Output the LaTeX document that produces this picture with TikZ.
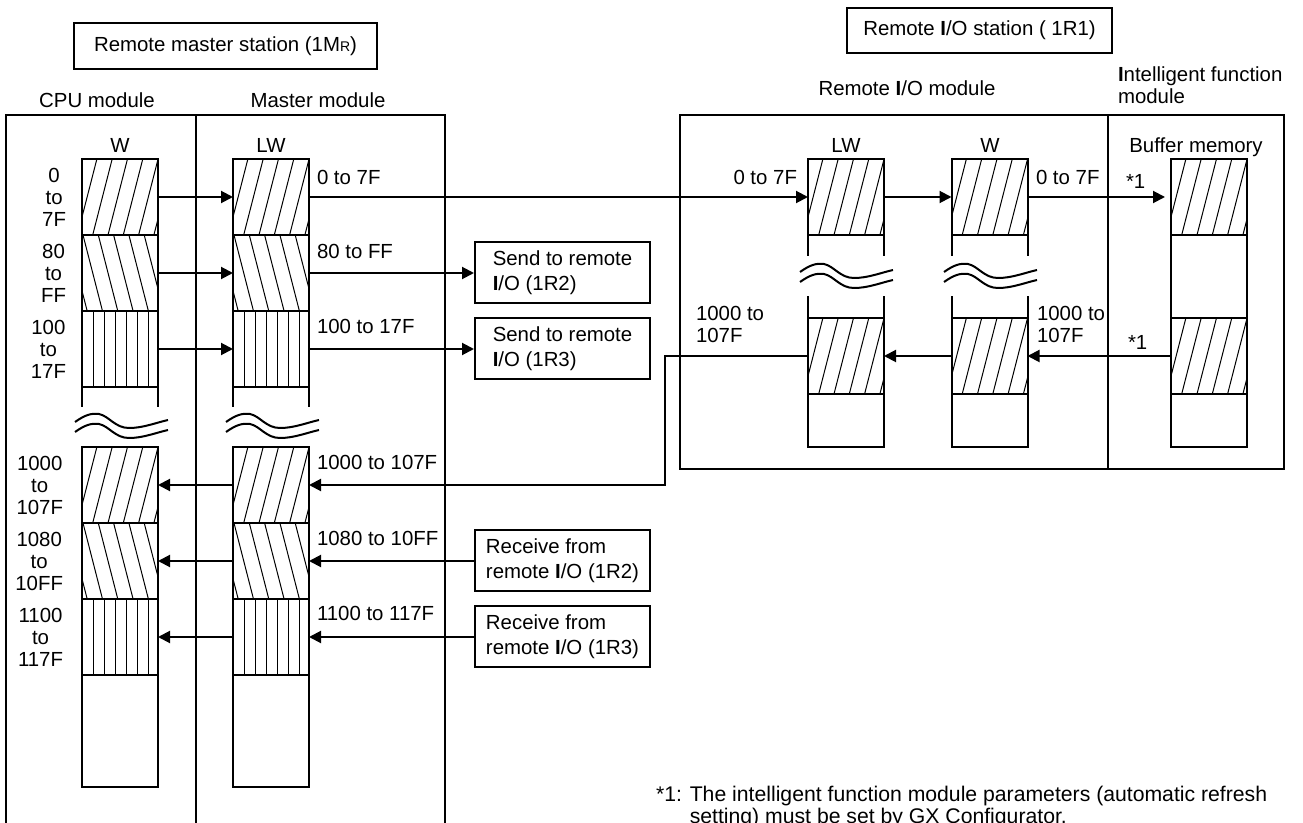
\documentclass[tikz,border=0pt]{standalone}
\usepackage{fontspec}
\setmainfont{Liberation Sans}
\usepackage{tikz}
\usetikzlibrary{arrows.meta, positioning, calc}

\newcommand{\rio}{\textbf{I}/O}
\newcommand{\wavebreak}[2]{%
  \foreach \dy in {0,10}{
    \draw (#1,#2+9+\dy) .. controls (#1+10,#2+2+\dy) and (#1+16,#2+\dy) .. (#1+24,#2+1+\dy)
      .. controls (#1+34,#2+3+\dy) and (#1+40,#2+15+\dy) .. (#1+54,#2+15+\dy)
      .. controls (#1+68,#2+15+\dy) and (#1+80,#2+10+\dy) .. (#1+93,#2+7+\dy);
  }}

\begin{document}
\begin{tikzpicture}[x=0.5pt, y=-0.5pt, line width=1pt, >={Triangle[length=6pt,width=6pt]},
  font=\fontsize{10.2pt}{11pt}\selectfont,
  seg/.style={draw, minimum width=38pt, minimum height=38pt, inner sep=0pt, outer sep=0pt},
  fwd/.style={seg, path picture={\foreach \k in {-1,...,5}
      \draw[line width=0.5pt] ([xshift=5.35pt+\k*7.65pt]path picture bounding box.south west) -- ++(10pt,39pt);}},
  bwd/.style={seg, path picture={\foreach \k in {-1,...,5}
      \draw[line width=0.5pt] ([xshift=0.5pt+\k*7.65pt]path picture bounding box.north west) -- ++(10pt,-39pt);}},
  hvert/.style={seg, path picture={\foreach \k in {0,...,5}
      \draw[line width=0.5pt] ([xshift=5.65pt+\k*5.55pt]path picture bounding box.south west) -- ++(0pt,39pt);}},
  iobox/.style={draw, align=left, minimum width=87.5pt, minimum height=30.5pt, inner sep=0pt,
      font=\fontsize{10.2pt}{12.5pt}\selectfont},
  addr/.style={align=center, anchor=east, inner sep=0pt},
  lbl/.style={anchor=west, align=left, inner sep=0pt},
]
\useasboundingbox (0,0) rectangle (1303,823);
\clip (0,0) rectangle (1303,823);

% station titles
\node[draw, minimum width=151.5pt, minimum height=23pt] (mst) at (225.5,46)
  {Remote master station (1M{\fontsize{7pt}{7pt}\selectfont R})};
\node[draw, minimum width=132.5pt, minimum height=22.5pt] (rst) at (979.5,30.5)
  {Remote \rio\ station ( 1R1)};

% module frames
\node (cpu) at (97,100) {CPU module};
\node (mm) at (318,100) {Master module};
\node (rmod) at (907,88) {Remote \rio\ module};
\node[lbl] (ifm) at (1117,85) {\textbf{I}ntelligent function\\module};
\draw (6,830) -- (6,115) -- (445,115) -- (445,830);
\draw (196,115) -- (196,830);
\draw (680,115) rectangle (1284,469);
\draw (1108,115) -- (1108,469);

% master station devices
\node (wt) at (120,145) {W};
\node (lwt) at (271,145) {LW};
\foreach \cx/\nm in {120/w, 271/lw} {
  \node[fwd] (\nm1) at (\cx,197) {};
  \node[bwd] (\nm2) at (\cx,273) {};
  \node[hvert] (\nm3) at (\cx,349) {};
  \node[fwd] (\nm4) at (\cx,485) {};
  \node[bwd] (\nm5) at (\cx,561) {};
  \node[hvert] (\nm6) at (\cx,637) {};
  \draw (\nm3.south west) -- ++(0,20) (\nm3.south east) -- ++(0,20);
  \draw (\nm6.south west) rectangle ++(76,112);
}
\wavebreak{75}{413}
\wavebreak{226}{413}

\node[addr] (a1) at (67,197) {0\\to\\7F};
\node[addr] (a2) at (67,273) {80\\to\\FF};
\node[addr] (a3) at (67,349) {100\\to\\17F};
\node[addr] (a4) at (64,485) {1000\\to\\107F};
\node[addr] (a5) at (64,561) {1080\\to\\10FF};
\node[addr] (a6) at (64,637) {1100\\to\\117F};

\node[lbl] (b1) at (316,177) {0 to 7F};
\node[lbl] (b2) at (316,251) {80 to FF};
\node[lbl] (b3) at (316,326) {100 to 17F};
\node[lbl] (b4) at (316,462) {1000 to 107F};
\node[lbl] (b5) at (316,538) {1080 to 10FF};
\node[lbl] (b6) at (316,613) {1100 to 117F};

% other stations
\node[iobox] (snd2) at (562.5,273) {Send to remote\\\rio\ (1R2)};
\node[iobox] (snd3) at (562.5,349) {Send to remote\\\rio\ (1R3)};
\node[iobox] (rcv2) at (562.5,561) {Receive from\\remote \rio\ (1R2)};
\node[iobox] (rcv3) at (562.5,637) {Receive from\\remote \rio\ (1R3)};

% remote I/O station devices
\node (rlwt) at (846,145) {LW};
\node (rwt) at (990,145) {W};
\node (buft) at (1196,147) {Buffer memory};
\foreach \cx/\nm in {846/rlw, 989.5/rw} {
  \node[fwd] (\nm1) at (\cx,197) {};
  \node[fwd] (\nm2) at (\cx,356) {};
  \draw (\nm1.south west) -- ++(0,21) (\nm1.south east) -- ++(0,21);
  \draw (\nm2.north west) -- ++(0,-22) (\nm2.north east) -- ++(0,-22);
  \draw (\nm2.south west) rectangle ++(76,53);
}
\node[fwd] (buf1) at (1209,197) {};
\node[fwd] (buf2) at (1209,356) {};
\draw (buf1.south west) -- (buf2.north west) (buf1.south east) -- (buf2.north east);
\draw (buf2.south west) rectangle ++(76,53);
\wavebreak{800}{263}
\wavebreak{944}{263}

\node[anchor=east, inner sep=0pt] (c1) at (798,177) {0 to 7F};
\node[lbl] (c2) at (1035,177) {0 to 7F};
\node[lbl] (c3) at (1125,181) {*1};
\node[lbl] (c4) at (695,324) {1000 to\\107F};
\node[lbl] (c5) at (1036,324) {1000 to\\107F};
\node[lbl] (c6) at (1127,342) {*1};

% transfers
\foreach \i in {1,2,3} \draw[->] (w\i.east) -- (lw\i.west);
\foreach \i in {4,5,6} \draw[->] (lw\i.west) -- (w\i.east);
\draw[->] (lw1.east) -- (rlw1.west);
\draw[->] (lw2.east) -- (snd2.west);
\draw[->] (lw3.east) -- (snd3.west);
\draw[->] (rlw1.east) -- (rw1.west);
\draw[->, shorten >=3pt] (rw1.east) -- (buf1.west);
\draw[->] (buf2.west) -- (rw2.east);
\draw[->] (rw2.west) -- (rlw2.east);
\coordinate (bend) at (665,356);
\draw[->] (rlw2.west) -- (bend) |- (lw4.east);
\draw[->] (rcv2.west) -- (lw5.east);
\draw[->] (rcv3.west) -- (lw6.east);

\node[lbl, font=\fontsize{10.6pt}{11pt}\selectfont] (note) at (655,807)
  {*1: The intelligent function module parameters (automatic refresh\\
  \phantom{*1: }setting) must be set by GX Configurator.};
\end{tikzpicture}
\end{document}
